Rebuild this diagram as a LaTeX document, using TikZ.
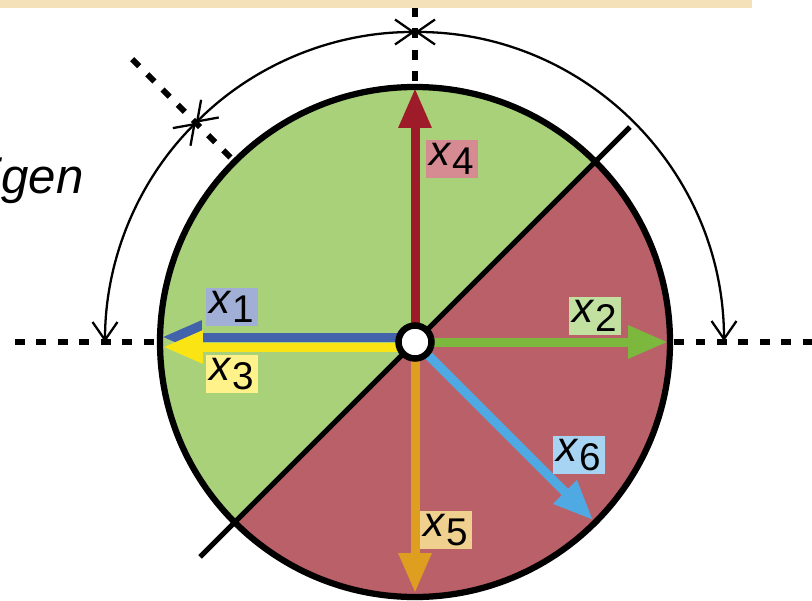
\documentclass[tikz,border=0pt]{standalone}
\usepackage{fontspec}
\setmainfont{Liberation Sans}
\usetikzlibrary{arrows.meta,positioning,calc}

\definecolor{barbeige}{HTML}{F5E1B9}
\definecolor{halfgreen}{HTML}{A8D179}
\definecolor{halfred}{HTML}{BA6068}
\definecolor{vecblue}{HTML}{4263AB}
\definecolor{vecyellow}{HTML}{FBE414}
\definecolor{vecred}{HTML}{9E1B2A}
\definecolor{vecgreen}{HTML}{7DB83E}
\definecolor{vecorange}{HTML}{DE9E1F}
\definecolor{vecsky}{HTML}{4FA9E2}
\definecolor{tagblue}{HTML}{A1AFD6}
\definecolor{tagyellow}{HTML}{FFF28A}
\definecolor{tagred}{HTML}{D68A92}
\definecolor{taggreen}{HTML}{C2E0A0}
\definecolor{tagorange}{HTML}{F0D08E}
\definecolor{tagsky}{HTML}{A6D4F2}

\newcommand{\xsub}[1]{\textit{x}\kern0.5pt\raisebox{-5pt}{\fontsize{22}{22}\selectfont #1}}

\begin{document}
\begin{tikzpicture}[x=0.02cm,y=0.02cm,
    guide/.style={line width=0.12cm, dash pattern=on 0.2cm off 0.23cm},
    vec/.style={line width=0.18cm, -{Triangle[length=0.8cm,width=0.62cm]}},
    span/.style={line width=1.3pt, {Straight Barb[length=0.36cm,width=0.5cm]}-{Straight Barb[length=0.36cm,width=0.5cm]}},
    lbl/.style={inner xsep=1.8pt, inner ysep=2pt, minimum height=21pt, font=\fontsize{24}{24}\selectfont}]

    \useasboundingbox (0,0) rectangle (812,600);

    \coordinate (c0) at (415,258);

    % dashed guides
    \coordinate (gl) at (15,258);
    \coordinate (gr) at (812,258);
    \coordinate (gt) at (415,593);
    \coordinate (gd) at ($(c0)+(135:400)$);
    \draw[guide] (gl) -- ($(c0)+(180:255)$);
    \draw[guide] ($(c0)+(0:259)$) -- (gr);
    \draw[guide] (gt) -- ($(c0)+(90:255)$);
    \draw[guide] (gd) -- ($(c0)+(135:255)$);

    % the two halves
    \fill[halfgreen] (c0) -- ++(45:255) arc[start angle=45,end angle=225,radius=255] -- cycle;
    \fill[halfred] (c0) -- ++(225:255) arc[start angle=225,end angle=405,radius=255] -- cycle;
    \draw[line width=0.1cm] ($(c0)+(225:304)$) -- ($(c0)+(45:304)$);

    % angle arcs
    \draw[span] ($(c0)+(180:310)$) arc[start angle=180,end angle=135,radius=310];
    \draw[span] ($(c0)+(135:310)$) arc[start angle=135,end angle=90,radius=310];
    \draw[span] ($(c0)+(90:310)$) arc[start angle=90,end angle=0,radius=309];

    % vectors
    \coordinate (s1) at (415,263);
    \coordinate (s3) at (415,253);
    \coordinate (e1) at (162,263);
    \coordinate (e3) at (163,253);
    \coordinate (e2) at (668,258);
    \coordinate (e4) at (415,512);
    \coordinate (e5) at (415,7);
    \coordinate (e6) at ($(c0)+(-45:252)$);
    \draw[vec,vecblue] (s1) -- (e1);
    \draw[vec,vecyellow] (s3) -- (e3);
    \draw[vec,vecgreen] (c0) -- (e2);
    \draw[vec,vecred] (c0) -- (e4);
    \draw[vec,vecorange] (c0) -- (e5);
    \draw[vec,vecsky] (c0) -- (e6);

    \draw[line width=0.125cm] (c0) circle[radius=255];
    \node[circle, draw, line width=0.13cm, fill=white, inner sep=0pt, minimum size=0.66cm] (hub) at (c0) {};

    % labels
    \node[lbl, fill=tagblue] (t1) at (232,293) {\xsub{1}};
    \node[lbl, fill=tagyellow] (t3) at (232,226) {\xsub{3}};
    \node[lbl, fill=tagred] (t4) at (452,441) {\xsub{4}};
    \node[lbl, fill=taggreen] (t2) at (595,284) {\xsub{2}};
    \node[lbl, fill=tagsky] (t6) at (579,145) {\xsub{6}};
    \node[lbl, fill=tagorange] (t5) at (446,70) {\xsub{5}};

    \node[anchor=base east, inner sep=0pt, font=\itshape\fontsize{28}{28}\selectfont] (word) at (84,407) {igen};

    % top bar
    \fill[barbeige] (0,592) rectangle (752,600);
\end{tikzpicture}
\end{document}
